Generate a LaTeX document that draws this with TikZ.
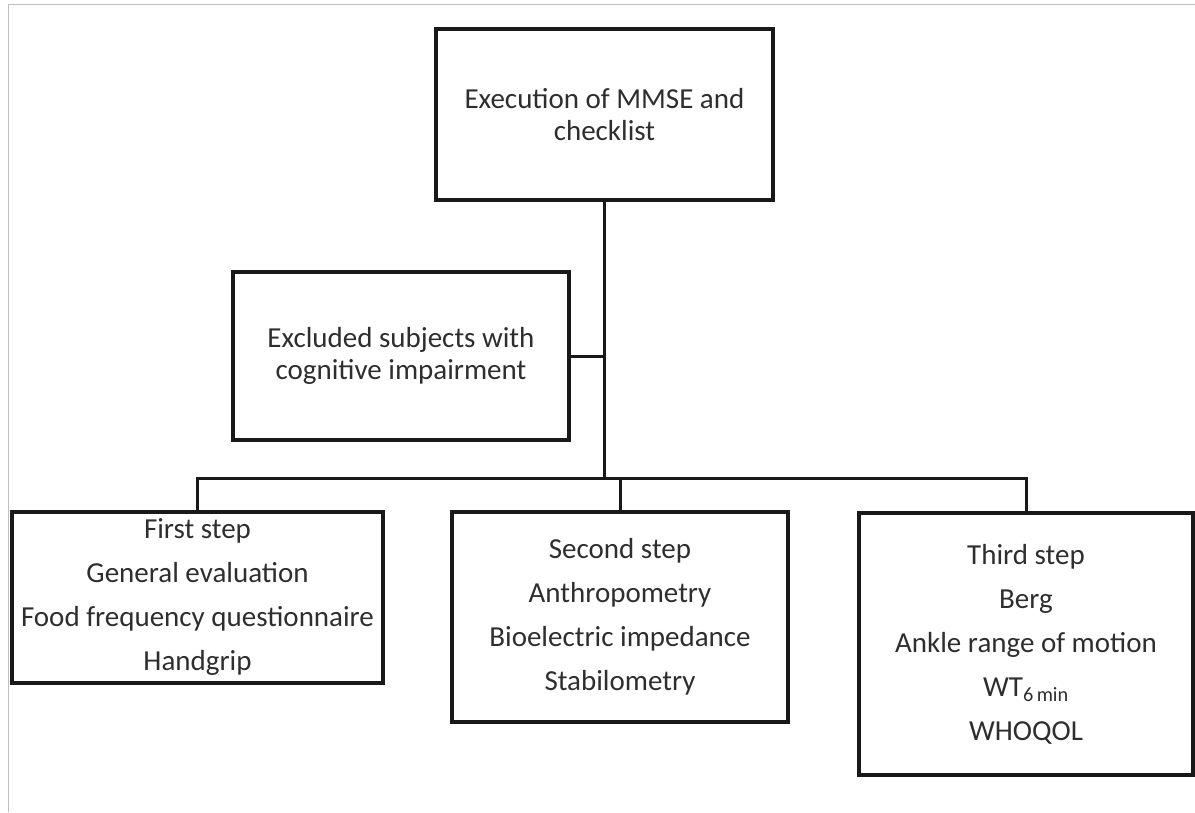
\documentclass[tikz,border=0pt]{standalone}
\usepackage{fontspec}
\setmainfont{Carlito}
\begin{document}
\begin{tikzpicture}[x=1pt,y=-1pt,
  box/.style={draw=black!90, line width=3.2pt, inner sep=0pt, align=center, text=black!82},
  tight/.style={font=\fontsize{29}{31.5}\selectfont},
  loose/.style={font=\fontsize{29}{44}\selectfont},
  conn/.style={draw=black!90, line width=3pt}]
\useasboundingbox (0,0) rectangle (1195,812);
\draw[black!25, line width=1pt] (8.5,812) -- (8.5,4.5) -- (1195,4.5);

\node[box, tight, minimum width=337pt, minimum height=171pt] (top) at (604.5,114.5)
  {Execution of MMSE and\\checklist};
\node[box, tight, minimum width=336pt, minimum height=168pt] (excl) at (401,356)
  {Excluded subjects with\\cognitive impairment};
\node[box, loose, minimum width=371pt, minimum height=171pt] (first) at (197.5,597.5)
  {First step\\General evaluation\\Food frequency questionnaire\\Handgrip};
\node[box, loose, minimum width=336pt, minimum height=210pt] (second) at (620,617)
  {Second step\\Anthropometry\\Bioelectric impedance\\Stabilometry};
\node[box, loose, minimum width=334pt, minimum height=262pt] (third) at (1026,644)
  {Third step\\Berg\\Ankle range of motion\\WT\textsubscript{6\,min}\\WHOQOL};

\coordinate (j) at (604.5,478);
\draw[conn] (top.south) -- (j);
\draw[conn] (excl.east) -- (excl.east -| j);
\draw[conn] (first.north) |- (j) -| (third.north);
\draw[conn] (second.north) -- (second.north |- j);
\end{tikzpicture}
\end{document}
